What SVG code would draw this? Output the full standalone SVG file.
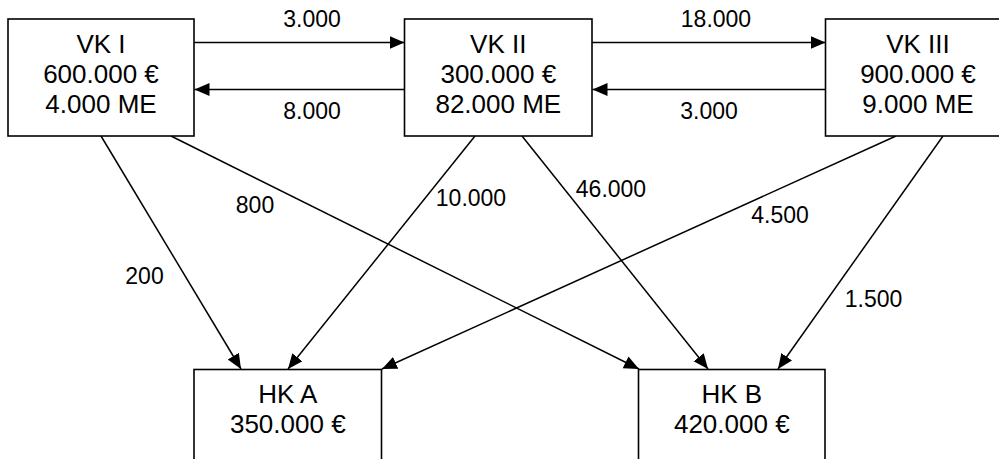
<svg xmlns="http://www.w3.org/2000/svg" width="999" height="459" viewBox="0 0 999 459">
  <style>
    .box { fill: #ffffff; stroke: #000000; stroke-width: 1.6; }
    .node { font-family: "Liberation Sans", Arial, sans-serif; font-size: 26px; fill: #000000; text-anchor: middle; }
    .edge { fill: none; stroke: #000000; stroke-width: 1.5; marker-end: url(#arrow); }
    .lbl { font-family: "Liberation Sans", Arial, sans-serif; font-size: 23px; fill: #000000; text-anchor: middle; }
  </style>
  <defs>
    <marker id="arrow" markerUnits="userSpaceOnUse" markerWidth="16" markerHeight="14" refX="15" refY="6.5" orient="auto">
      <path d="M0,0 L15,6.5 L0,13 z" fill="#000000"/>
    </marker>
  </defs>
  <rect width="999" height="459" fill="#ffffff"/>

  <g id="connectors">
    <!-- flows between the service cost centres -->
    <line class="edge" x1="194" y1="42.5" x2="404.5" y2="42.5"/>
    <line class="edge" x1="404.5" y1="89.5" x2="194.5" y2="89.5"/>
    <line class="edge" x1="592" y1="42.5" x2="825.5" y2="42.5"/>
    <line class="edge" x1="825.5" y1="89.5" x2="592.5" y2="89.5"/>
    <!-- flows into the main cost centres -->
    <line class="edge" x1="101" y1="136" x2="241" y2="369"/>
    <line class="edge" x1="171" y1="136" x2="639" y2="369"/>
    <line class="edge" x1="475" y1="136" x2="288" y2="369"/>
    <line class="edge" x1="522" y1="136" x2="708" y2="369"/>
    <line class="edge" x1="896" y1="136" x2="382" y2="369"/>
    <line class="edge" x1="943" y1="136" x2="778" y2="369"/>

    <text class="lbl" x="312" y="27">3.000</text>
    <text class="lbl" x="312" y="119">8.000</text>
    <text class="lbl" x="716" y="27">18.000</text>
    <text class="lbl" x="709" y="119">3.000</text>
    <text class="lbl" x="144.5" y="284">200</text>
    <text class="lbl" x="255" y="213">800</text>
    <text class="lbl" x="471" y="206">10.000</text>
    <text class="lbl" x="611" y="197">46.000</text>
    <text class="lbl" x="780" y="223">4.500</text>
    <text class="lbl" x="873.5" y="306.5">1.500</text>
  </g>

  <g id="vk1">
    <rect class="box" x="8" y="19" width="186" height="117"/>
    <text class="node" x="101" y="53">VK I</text>
    <text class="node" x="101" y="83">600.000 €</text>
    <text class="node" x="101" y="113">4.000 ME</text>
  </g>
  <g id="vk2">
    <rect class="box" x="404.5" y="19" width="187.5" height="117"/>
    <text class="node" x="498.3" y="53">VK II</text>
    <text class="node" x="498.3" y="83">300.000 €</text>
    <text class="node" x="498.3" y="113">82.000 ME</text>
  </g>
  <g id="vk3">
    <rect class="box" x="825.5" y="19" width="186" height="117"/>
    <text class="node" x="918" y="53">VK III</text>
    <text class="node" x="918" y="83">900.000 €</text>
    <text class="node" x="918" y="113">9.000 ME</text>
  </g>
  <g id="hka">
    <rect class="box" x="194" y="369.5" width="187.5" height="117"/>
    <text class="node" x="287.8" y="403">HK A</text>
    <text class="node" x="287.8" y="433">350.000 €</text>
  </g>
  <g id="hkb">
    <rect class="box" x="638.5" y="369.5" width="186.5" height="117"/>
    <text class="node" x="731.8" y="403">HK B</text>
    <text class="node" x="731.8" y="433">420.000 €</text>
  </g>
</svg>
